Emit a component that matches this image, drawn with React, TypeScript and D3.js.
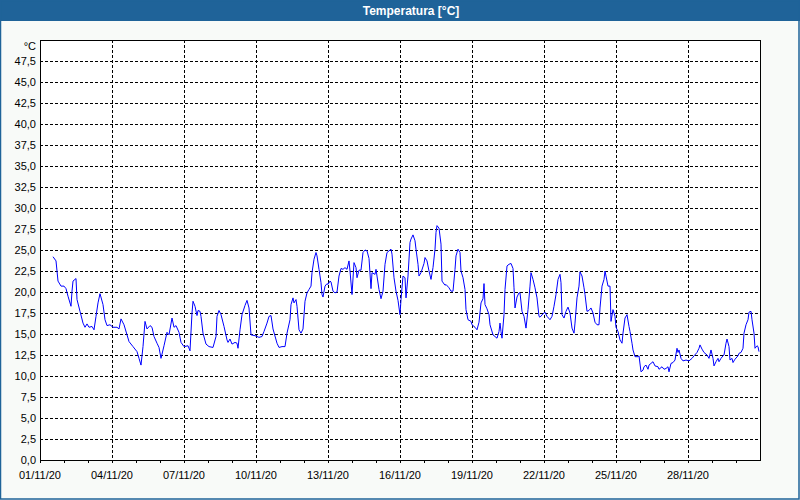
import React from 'react'
import * as d3 from 'd3'

// hours since 01/11/20 00:00, temperature [°C]
const readings: [number, number][] = [
    [13, 24.2], [16, 23.7], [17, 22.5], [18, 21.3], [21, 20.7], [24, 20.7], [26, 20.4], [28, 19.5], [31, 18.3], [32, 20.1],
    [33, 21.3], [36, 21.6], [37, 19.1], [40, 17.7], [43, 16.3], [45, 15.8], [47, 16.2], [49, 15.8], [52, 15.9], [54, 15.5],
    [56, 17.1], [58, 18.7], [60, 19.8], [63, 18.5], [65, 16.7], [67, 16.0], [70, 16.1], [73, 15.8], [77, 15.8], [79, 15.6],
    [81, 16.8], [84, 16.1], [87, 14.9], [89, 14.1], [93, 13.5], [97, 12.9], [99, 12.1], [101, 11.3], [103, 13.5], [105, 16.5],
    [107, 15.6], [110, 16.0], [112, 15.8], [114, 14.7], [117, 13.9], [119, 13.4], [121, 12.1], [124, 13.6], [127, 15.2], [129, 14.9],
    [132, 16.9], [134, 15.8], [136, 16.0], [139, 15.2], [141, 14.0], [144, 13.5],
    [148, 13.6], [150, 13.0], [152, 17.5], [153, 18.9], [155, 18.3], [157, 17.2], [158, 17.8], [160, 17.7], [161, 17.1], [163, 15.1],
    [166, 13.8], [169, 13.5], [173, 13.4], [176, 14.7], [177, 17.1], [179, 17.8], [181, 17.3], [184, 15.9], [187, 14.3], [188, 14.0],
    [190, 14.4], [192, 13.8], [195, 14.0], [197, 13.9], [198, 13.3], [200, 15.5], [202, 17.3], [205, 18.4], [207, 19.0], [209, 18.1],
    [211, 14.9], [215, 14.8], [219, 14.6], [222, 14.7], [224, 15.3], [227, 16.3], [229, 17.1], [231, 17.2], [233, 15.6], [237, 13.9],
    [239, 13.4], [242, 13.5], [245, 13.5], [247, 15.1], [250, 16.7], [251, 18.5], [253, 19.3], [254, 18.7], [256, 19.1], [257, 18.3],
    [259, 15.5], [261, 15.1], [263, 15.6], [265, 18.9], [267, 19.9], [269, 20.3], [271, 20.7], [272, 22.3], [274, 23.9], [276, 24.7],
    [277, 24.3], [279, 22.7], [281, 21.1], [282, 19.7], [283, 19.4], [285, 20.7], [287, 21.0], [288, 20.9],
    [290, 21.3], [291, 21.2], [293, 20.1], [295, 19.9], [297, 20.0], [299, 21.9], [301, 22.8], [303, 22.7], [305, 22.9], [307, 22.7],
    [309, 23.7], [310, 22.5], [312, 19.7], [314, 23.5], [316, 22.9], [317, 21.7], [319, 22.6], [321, 22.6], [323, 24.7], [325, 25.0],
    [327, 24.9], [329, 24.0], [331, 20.4], [332, 22.3], [335, 22.1], [336, 22.7], [337, 21.9], [339, 20.3], [341, 19.2], [343, 20.1],
    [345, 23.3], [347, 24.7], [350, 25.0], [351, 25.1], [352, 24.5], [354, 21.7], [356, 20.1], [358, 19.0], [360, 17.3], [361, 19.1],
    [363, 21.9], [365, 21.7], [366, 19.3], [368, 21.9], [370, 25.9], [371, 26.3], [373, 26.8], [375, 26.1], [376, 25.1], [378, 23.3],
    [379, 21.9], [381, 22.3], [384, 23.4], [385, 24.1], [387, 23.7], [389, 22.5], [391, 21.5], [393, 22.9], [395, 25.1], [396, 27.1],
    [397, 27.9], [399, 27.6], [401, 25.7], [402, 21.3], [405, 20.8], [406, 20.9], [409, 20.5], [411, 20.1], [413, 20.1], [415, 22.7],
    [416, 24.3], [418, 25.1], [420, 24.7], [421, 22.5], [423, 21.7], [425, 20.3], [426, 17.9], [428, 16.7], [431, 16.5], [432, 16.1],
    [435, 15.8], [437, 15.5], [439, 16.4], [441, 18.7], [443, 19.2], [444, 21.0], [445, 18.5], [447, 18.0], [449, 17.3], [450, 16.1],
    [453, 14.9], [455, 14.7], [457, 14.5], [459, 15.3], [460, 16.3], [461, 15.3], [462, 14.5], [464, 17.3], [465, 20.3], [467, 23.1],
    [469, 23.3], [471, 23.4], [473, 22.8], [474, 20.5], [475, 18.1], [477, 19.4], [479, 19.9], [480, 19.9], [482, 17.7], [484, 17.1],
    [486, 15.7], [488, 17.9], [490, 20.7], [491, 22.3], [493, 21.5], [495, 20.5], [497, 19.3], [499, 17.1], [500, 17.0], [503, 17.4],
    [505, 17.6], [507, 17.1], [510, 16.7], [512, 17.1], [514, 18.3], [516, 19.7], [518, 21.5], [520, 22.1], [521, 21.1], [522, 17.3],
    [524, 16.9], [526, 17.7], [528, 18.2], [530, 17.5], [532, 15.7], [534, 15.1], [535, 16.3], [537, 19.3], [539, 20.7], [540, 22.4],
    [542, 21.9], [544, 20.5], [545, 19.7], [547, 17.7], [549, 17.8], [551, 18.1], [553, 17.5], [555, 16.4], [557, 16.1], [559, 16.1],
    [560, 18.1], [562, 20.7], [564, 21.5], [565, 22.5], [566, 21.9], [568, 20.7], [570, 20.7], [571, 16.5], [573, 17.9], [575, 17.1],
    [576, 15.8], [578, 15.3], [580, 14.3], [582, 13.9], [583, 15.1], [585, 16.9], [587, 17.3], [589, 15.9], [590, 15.3], [592, 13.9],
    [593, 13.1], [595, 12.3], [598, 12.3], [599, 12.4], [601, 10.5], [603, 10.7], [604, 11.1], [606, 11.3], [608, 10.8], [609, 11.3],
    [612, 11.6], [613, 11.7], [615, 11.2], [618, 11.1], [619, 10.8], [622, 11.1], [624, 10.8], [626, 10.9], [628, 11.1], [629, 10.5],
    [631, 11.5], [633, 11.6], [635, 11.9], [637, 13.3], [638, 12.8], [639, 13.1], [641, 12.1], [643, 11.8], [646, 11.9], [649, 11.8],
    [652, 12.1], [654, 12.4], [657, 12.8], [659, 13.3], [660, 13.7], [662, 13.2], [664, 12.8], [667, 12.5], [669, 12.1], [671, 13.1],
    [673, 12.1], [674, 11.2], [676, 11.7], [678, 12.1], [679, 11.7], [681, 12.1], [683, 12.4], [684, 12.5], [686, 13.9], [687, 14.4],
    [689, 13.5], [690, 11.9], [692, 12.1], [693, 11.6], [695, 12.0], [698, 12.4], [699, 12.7], [701, 12.8], [703, 13.3], [704, 15.1],
    [706, 16.1], [708, 16.7], [709, 17.6], [711, 17.7], [712, 16.7], [714, 15.1], [715, 13.3], [717, 13.6], [718, 13.5], [719, 12.9],
]

const title = 'Temperatura [°C]'
const unitLabel = '°C'
const yTicks = [0, 2.5, 5, 7.5, 10, 12.5, 15, 17.5, 20, 22.5, 25, 27.5, 30, 32.5, 35, 37.5, 40, 42.5, 45, 47.5]
const labelDays = [0, 3, 6, 9, 12, 15, 18, 21, 24, 27]
const tickDays = d3.range(0, 30)

const start = Date.UTC(2020, 10, 1)
const hourMs = 3600 * 1000

const width = 800
const height = 500
const margin = { top: 40, right: 40, bottom: 40, left: 40 }

const fontFamily = '"Liberation Sans", Arial, sans-serif'
const blue = '#1f6399'

const App = () => {
    const x = d3.scaleUtc()
        .domain([new Date(start), new Date(start + 30 * 24 * hourMs)])
        .range([margin.left, width - margin.right])

    const y = d3.scaleLinear()
        .domain([0, 50])
        .range([height - margin.bottom, margin.top])

    const dayDate = (d: number) => new Date(start + d * 24 * hourMs)
    const fmtDate = d3.utcFormat('%d/%m/%y')
    const fmtVal = (v: number) => d3.format('.1f')(v).replace('.', ',')

    const line = d3.line<[number, number]>()
        .x(d => x(new Date(start + d[0] * hourMs)))
        .y(d => y(d[1]))

    const x0 = margin.left
    const x1 = width - margin.right
    const y0 = height - margin.bottom
    const y1 = margin.top

    return (
        <svg width={width} height={height}
             style={{ position: 'absolute', left: 0, top: 0, display: 'block' }}>
            <rect x={0} y={0} width={width} height={height} fill="#f8faf8" />
            <rect x={0} y={0} width={width} height={21} fill={blue} />
            <text x={411} y={11} textAnchor="middle" dominantBaseline="central"
                  fill="#fff" fontFamily={fontFamily} fontSize={12} fontWeight="bold">{title}</text>
            <rect x={0.5} y={0.5} width={width - 1.5} height={height - 1.5} fill="none" stroke={blue} strokeWidth={1.5} />

            <rect x={x0} y={y1} width={x1 - x0} height={y0 - y1} fill="#fff" />

            {yTicks.filter(v => v > 0).map(v => (
                <line key={`hy-${v}`} x1={x0} x2={x1} y1={Math.round(y(v)) + 0.5} y2={Math.round(y(v)) + 0.5}
                      stroke="#000" strokeDasharray="3,2" />
            ))}
            {labelDays.filter(d => d > 0).map(d => (
                <line key={`vx-${d}`} x1={Math.round(x(dayDate(d))) + 0.5} x2={Math.round(x(dayDate(d))) + 0.5}
                      y1={y1} y2={y0} stroke="#000" strokeDasharray="3,2" />
            ))}

            {tickDays.map(d => (
                <line key={`t-${d}`} x1={Math.round(x(dayDate(d))) + 0.5} x2={Math.round(x(dayDate(d))) + 0.5}
                      y1={y0} y2={y0 + 3} stroke="#000" />
            ))}

            <path d={line(readings) || ''} fill="none" stroke="#0000ff" strokeWidth={1} />

            <rect x={x0 + 0.5} y={y1 + 0.5} width={x1 - x0} height={y0 - y1} fill="none" stroke="#000" strokeWidth={1} />

            {yTicks.map(v => (
                <text key={`yl-${v}`} x={x0 - 4} y={y(v)} textAnchor="end" dominantBaseline="central"
                      fontFamily={fontFamily} fontSize={11} fill="#000">{fmtVal(v)}</text>
            ))}
            <text x={x0 - 4} y={46} textAnchor="end" dominantBaseline="central"
                  fontFamily={fontFamily} fontSize={11} fill="#000">{unitLabel}</text>

            {labelDays.map(d => (
                <text key={`xl-${d}`} x={x(dayDate(d))} y={475} textAnchor="middle" dominantBaseline="central"
                      fontFamily={fontFamily} fontSize={11} fill="#000">{fmtDate(dayDate(d))}</text>
            ))}
        </svg>
    )
}

export default App
